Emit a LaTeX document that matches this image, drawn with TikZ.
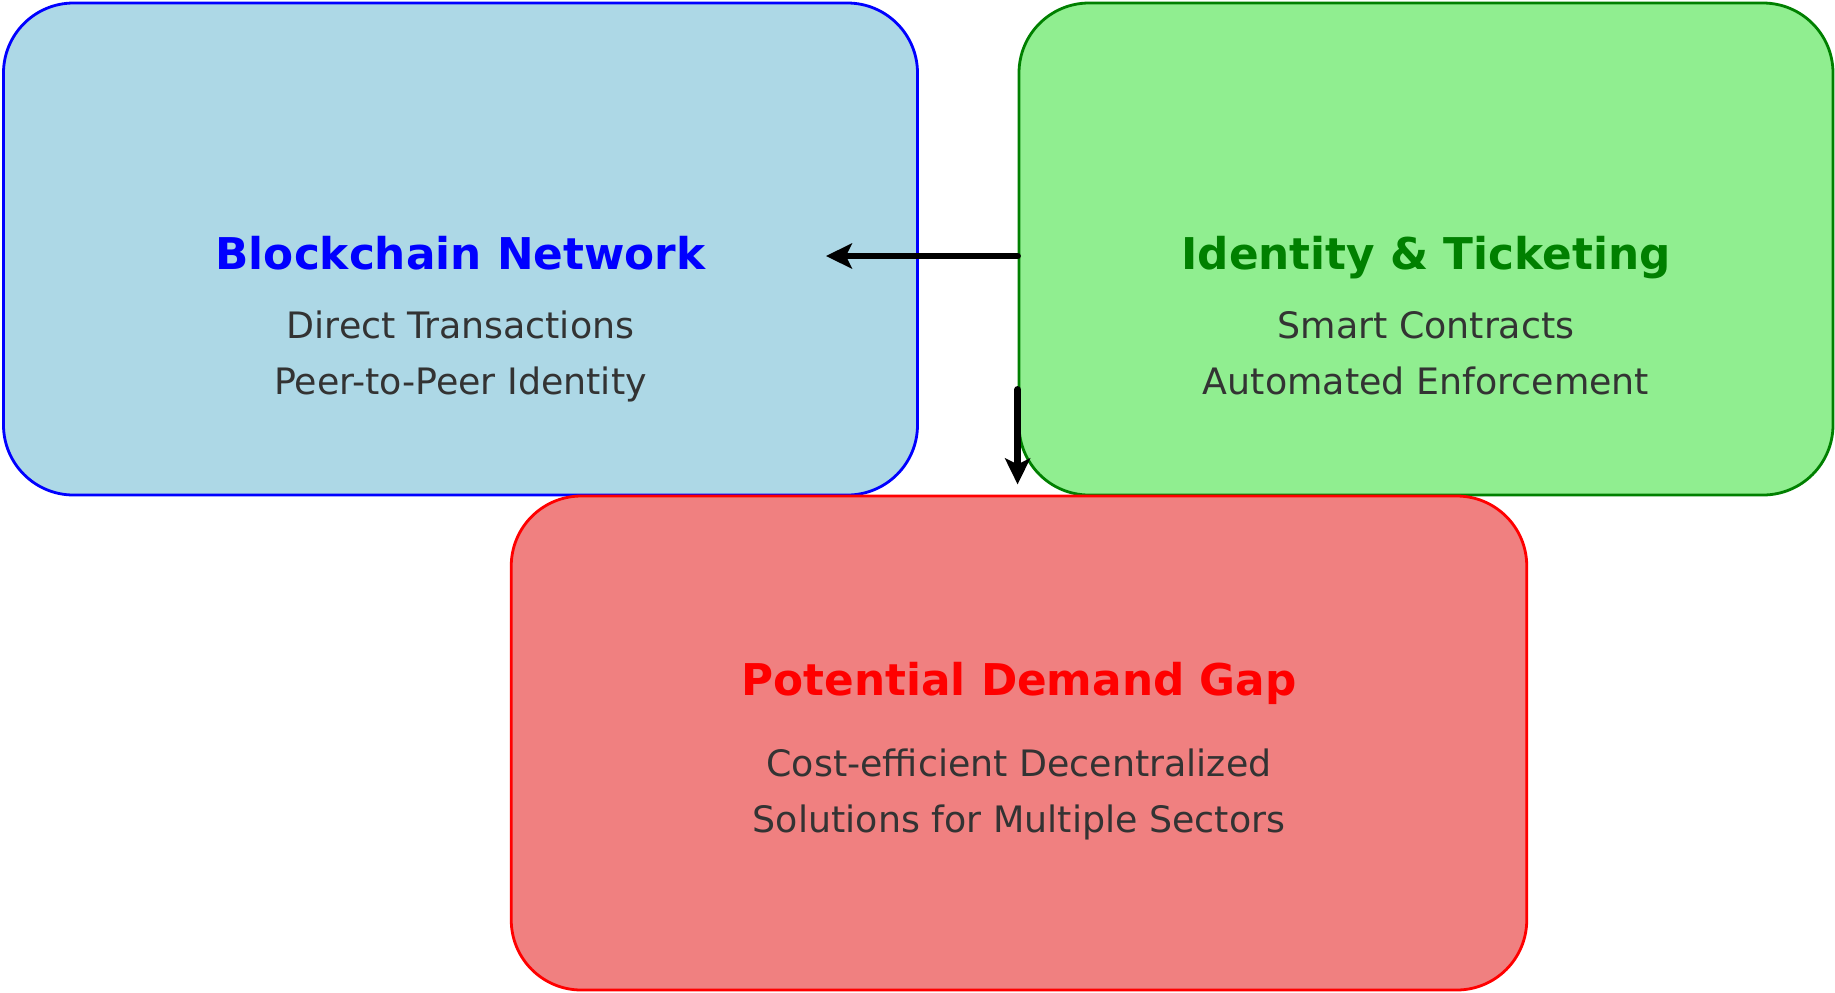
\documentclass[tikz,border=0pt]{standalone}
\usepackage{fontspec}
\setmainfont{DejaVu Sans}
\usepackage{xcolor}
\usetikzlibrary{arrows.meta,positioning,calc}

\definecolor{chainfill}{HTML}{ADD8E6}
\definecolor{identfill}{HTML}{90EE90}
\definecolor{gapfill}{HTML}{F08080}
\definecolor{identline}{HTML}{008000}
\definecolor{bodygray}{HTML}{333333}

\begin{document}
\begin{tikzpicture}[
    panel/.style={rectangle, rounded corners=0.7cm, line width=0.8pt, inner sep=0pt},
    heading/.style={font=\fontsize{12.45}{15}\selectfont\bfseries, text depth=0pt},
    detail/.style={font=\fontsize{10.35}{16}\selectfont, text=bodygray, align=center, text depth=0pt},
    link/.style={-{Stealth[length=0.26cm, width=0.25cm, inset=0.06cm]}, line width=1.9pt, line cap=round}
]
    \useasboundingbox (0,0) rectangle (18.35,-9.92);

    % Blockchain network (top left)
    \node[panel, draw=blue, fill=chainfill, minimum width=9.14cm, minimum height=4.92cm] (chain) at (4.605,-2.49) {};
    \node[heading, text=blue] (chaintitle) at (4.605,-2.53) {Blockchain Network};
    \node[detail] (chaintext) at (4.605,-3.53) {Direct Transactions\\Peer-to-Peer Identity};

    % Identity and ticketing (top right)
    \node[panel, draw=identline, fill=identfill, minimum width=8.14cm, minimum height=4.92cm] (ident) at (14.26,-2.49) {};
    \node[heading, text=identline] (identtitle) at (14.26,-2.53) {Identity \& Ticketing};
    \node[detail] (identtext) at (14.26,-3.53) {Smart Contracts\\Automated Enforcement};

    % Demand gap (bottom)
    \node[panel, draw=red, fill=gapfill, minimum width=10.155cm, minimum height=4.94cm] (gap) at (10.19,-7.43) {};
    \node[heading, text=red] (gaptitle) at (10.19,-6.79) {Potential Demand Gap};
    \node[detail] (gaptext) at (10.19,-7.91) {Cost-efficient Decentralized\\Solutions for Multiple Sectors};

    % Arrows
    \draw[link] ([yshift=-0.03cm]identtitle -| ident.west) -- ([xshift=-0.93cm, yshift=-0.03cm]identtitle -| chain.east);
    \draw[link] ([yshift=1.07cm]ident.south west) -- ([yshift=0.12cm]ident.south west);
\end{tikzpicture}
\end{document}
